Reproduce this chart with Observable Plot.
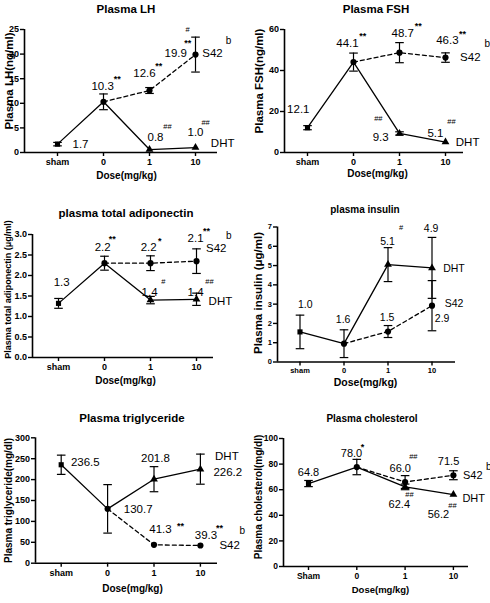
<!DOCTYPE html>
<html>
<head>
<meta charset="utf-8">
<script src="https://cdn.jsdelivr.net/npm/d3@7"></script>
<script src="https://cdn.jsdelivr.net/npm/@observablehq/plot@0.6"></script>
<style>
  html, body { margin: 0; padding: 0; background: #fff; }
  #root { position: relative; width: 490px; height: 603px; overflow: hidden;
          font-family: "Liberation Sans", Arial, Helvetica, sans-serif; color: #000; }
  .panel { position: absolute; }
  .panel svg { overflow: visible; }
  .ttl { position: absolute; font-weight: bold; white-space: nowrap; transform: translate(-50%, -50%); line-height: 1; }
</style>
</head>
<body>
<div id="root"></div>
<script>
// ---------------- DATA ----------------
const categories = ["sham", "0", "1", "10"];
const categoriesChol = ["Sham", "0", "1", "10"];
const xTitle = "Dose(mg/kg)";

// Plasma LH  (base = [sham, vehicle 0]; dht/s42 = doses [1, 10])
const lhBase = [1.7, 10.3];   const lhBaseSem = [0.35, 1.6];
const lhDHT  = [0.6, 1.0];    const lhDHTSem  = [0, 0];
const lhS42  = [12.6, 19.9];  const lhS42Sem  = [0.6, 3.55];
const lhTicks = [0, 5, 10, 15, 20, 25];
const lhNotes = [
  [0.5, 1.63, "1.7"], [0.98, 13.4, "10.3"], [1.30, 15.4, "**"], [1.89, 16.1, "12.6"], [2.20, 18.1, "**"],
  [2.57, 20.1, "19.9"], [2.83, 22.8, "**"], [2.83, 25.0, "#"], [3.37, 20.1, "S42"], [3.72, 22.8, "b"],
  [2.13, 3.05, "0.8"], [2.39, 5.3, "##"], [3.0, 4.07, "1.0"], [3.22, 6.1, "##"], [3.59, 1.83, "DHT"]
];

// Plasma FSH
const fshBase = [12.1, 44.1]; const fshBaseSem = [1.0, 4.4];
const fshDHT  = [9.3, 5.1];   const fshDHTSem  = [0.8, 0];
const fshS42  = [48.7, 46.3]; const fshS42Sem  = [4.9, 2.3];
const fshTicks = [0, 20, 40, 60];
const fshNotes = [
  [-0.2, 21, "12.1"], [0.87, 53.2, "44.1"], [1.2, 58, "**"], [2.07, 58, "48.7"], [2.41, 62.9, "**"],
  [3.04, 54.6, "46.3"], [3.37, 59, "**"], [3.91, 53.2, "b"], [3.54, 46.3, "S42"], [1.54, 16.6, "##"],
  [1.59, 7.3, "9.3"], [2.78, 9.3, "5.1"], [3.13, 15.1, "##"], [3.48, 4.9, "DHT"]
];

// Plasma total adiponectin
const adiBase = [1.32, 2.3];  const adiBaseSem = [0.12, 0.17];
const adiDHT  = [1.4, 1.42];  const adiDHTSem  = [0.09, 0.15];
const adiS42  = [2.3, 2.35];  const adiS42Sem  = [0.18, 0.3];
const adiTicks = [0, 0.5, 1.0, 1.5, 2.0, 2.5, 3.0];
const adiNotes = [
  [0.07, 1.83, "1.3"], [0.96, 2.68, "2.2"], [1.17, 2.95, "**"], [1.96, 2.68, "2.2"], [2.2, 2.9, "*"],
  [2.98, 2.9, "2.1"], [3.22, 3.15, "**"], [3.7, 2.98, "b"], [3.43, 2.66, "S42"], [1.98, 1.6, "1.4"],
  [2.28, 1.84, "#"], [2.98, 1.6, "1.4"], [3.28, 1.84, "##"], [3.52, 1.37, "DHT"]
];

// plasma insulin
const insBase = [1.56, 0.95]; const insBaseSem = [0.87, 0.72];
const insDHT  = [5.05, 4.88]; const insDHTSem  = [0.88, 1.58];
const insS42  = [1.58, 2.92]; const insS42Sem  = [0.31, 1.3];
const insTicks = [0, 1, 2, 3, 4, 5, 6, 7];
const insNotes = [
  [0.12, 2.98, "1.0"], [0.98, 2.19, "1.6"], [1.99, 6.26, "5.1"], [2.3, 6.98, "#"], [2.98, 6.9, "4.9"],
  [1.98, 2.29, "1.5"], [3.5, 4.83, "DHT"], [3.5, 3.05, "S42"], [3.23, 2.27, "2.9"]
];

// Plasma triglyceride
const triBase = [235.5, 130]; const triBaseSem = [23, 58];
const triDHT  = [201, 225];   const triDHTSem  = [30, 36];
const triS42  = [44, 42.3];   const triS42Sem  = [0, 0];
const triTicks = [0, 50, 100, 150, 200, 250, 300];
const triNotes = [
  [0.52, 241, "236.5"], [2.03, 252, "201.8"], [3.57, 256, "DHT"], [3.59, 218, "226.2"], [1.66, 129, "130.7"],
  [2.14, 80.4, "41.3"], [2.57, 95, "**"], [3.12, 66.7, "39.3"], [3.41, 90, "**"], [3.9, 78.7, "b"], [3.63, 42, "S42"]
];

// Plasma cholesterol
const choBase = [64.8, 77.7]; const choBaseSem = [2.4, 6];
const choDHT  = [62.2, 56.2]; const choDHTSem  = [2.2, 0];
const choS42  = [66, 71.3];   const choS42Sem  = [5, 3.5];
const choTicks = [0, 20, 40, 60, 80, 100];
const choNotes = [
  [0, 73.4, "64.8"], [0.89, 88, "78.0"], [1.12, 95, "*"], [1.9, 76.6, "66.0"], [2.17, 86, "##"],
  [2.9, 82, "71.5"], [3.4, 71, "S42"], [3.73, 78, "b"], [2.09, 56, "##"], [1.88, 48.4, "62.4"],
  [3.42, 53, "DHT"], [2.98, 47.7, "##"], [2.69, 40.6, "56.2"]
];

// ---------------- RENDERING ----------------
const FONT = '"Liberation Sans", Arial, Helvetica, sans-serif';
const capSymbol = { draw(ctx, size) { const w = Math.sqrt(size / Math.PI); ctx.moveTo(-w, 0); ctx.lineTo(w, 0); } };

function buildPanel(c) {
  const g = c.geom, f = c.fonts;
  const pts = [
    {i: 0, v: c.base[0], e: c.baseSem[0], sym: "square"},
    {i: 1, v: c.base[1], e: c.baseSem[1], sym: "circle"},
    {i: 2, v: c.dht[0], e: c.dhtSem[0], sym: "triangle"},
    {i: 3, v: c.dht[1], e: c.dhtSem[1], sym: "triangle"},
    {i: 2, v: c.s42[0], e: c.s42Sem[0], sym: "circle"},
    {i: 3, v: c.s42[1], e: c.s42Sem[1], sym: "circle"}
  ];
  const dhtLine = [pts[0], pts[1], pts[2], pts[3]];
  const s42Line = [pts[1], pts[4], pts[5]];
  const bars = pts.filter(d => d.e > 0);
  const caps = bars.flatMap(d => [{i: d.i, v: d.v - d.e}, {i: d.i, v: d.v + d.e}]);
  const xDom = [(g.mL - g.base) / g.step, (g.w - g.mR - g.base) / g.step];
  const notes = c.notes.map(([i, v, t]) => ({i, v, t}));
  const isNum = d => /^[\d.]+$/.test(d.t);
  const isStar = d => /^\*+$/.test(d.t);
  const isHash = d => /^#+$/.test(d.t);
  const isB = d => d.t === "b";
  const isName = d => !isNum(d) && !isStar(d) && !isHash(d) && !isB(d);

  const svg = Plot.plot({
    width: g.w, height: g.h,
    marginLeft: g.mL, marginRight: g.mR, marginTop: g.mT, marginBottom: g.mB,
    style: {fontFamily: FONT, background: "transparent", overflow: "visible", color: "#000"},
    x: {type: "linear", domain: xDom},
    y: {type: "linear", domain: [0, c.yTicks[c.yTicks.length - 1]]},
    marks: [
      Plot.axisX({ticks: [0, 1, 2, 3], tickFormat: i => c.cats[i], tickSize: 4, tickPadding: 2,
                  fontSize: f.tick, fontWeight: "bold", strokeWidth: 1.4, label: null}),
      Plot.axisY({ticks: c.yTicks, tickFormat: c.yFmt, tickSize: 4, tickPadding: 1.5,
                  fontSize: f.tick, fontWeight: "bold", strokeWidth: 1.4, label: null}),
      Plot.ruleY([0], {stroke: "#000", strokeWidth: 1.6}),
      Plot.ruleX([xDom[0]], {stroke: "#000", strokeWidth: 1.6}),
      Plot.ruleX(bars, {x: "i", y1: d => d.v - d.e, y2: d => d.v + d.e, stroke: "#000", strokeWidth: 1.2}),
      Plot.dot(caps, {x: "i", y: "v", symbol: capSymbol, r: 4.3, stroke: "#000", fill: "none", strokeWidth: 1.2}),
      Plot.line(dhtLine, {x: "i", y: "v", stroke: "#000", strokeWidth: 1.3}),
      Plot.line(s42Line, {x: "i", y: "v", stroke: "#000", strokeWidth: 1.3, strokeDasharray: "4,3"}),
      Plot.dot(pts.filter(d => d.sym === "square"), {x: "i", y: "v", symbol: "square", r: 2.9, fill: "#000", stroke: "none"}),
      Plot.dot(pts.filter(d => d.sym === "circle"), {x: "i", y: "v", symbol: "circle", r: 3.1, fill: "#000", stroke: "none"}),
      Plot.dot(pts.filter(d => d.sym === "triangle"), {x: "i", y: "v", symbol: "triangle", r: 2.9, fill: "#000", stroke: "none"}),
      Plot.text(notes.filter(isNum), {x: "i", y: "v", text: "t", fontSize: f.num, fill: "#000"}),
      Plot.text(notes.filter(isName), {x: "i", y: "v", text: "t", fontSize: f.name, fill: "#000"}),
      Plot.text(notes.filter(isStar), {x: "i", y: "v", text: "t", fontSize: 9, fontWeight: "bold", dy: 2.5, fill: "#000"}),
      Plot.text(notes.filter(isHash), {x: "i", y: "v", text: "t", fontSize: 7.5, fill: "#000"}),
      Plot.text(notes.filter(isB), {x: "i", y: "v", text: "t", fontSize: 10, fill: "#000"}),
      Plot.text([c.yLabel], {text: d => d, frameAnchor: "left", rotate: -90, dx: g.yl[0], dy: g.yl[1],
                             textAnchor: "middle", lineAnchor: "middle",
                             fontSize: f.ylab, fontWeight: "bold", fill: "#000"}),
      Plot.text([xTitle], {text: d => d, frameAnchor: "bottom", dx: g.xl[0], dy: g.xl[1],
                           textAnchor: "middle", lineAnchor: "middle",
                           fontSize: f.xlab, fontWeight: "bold", fill: "#000"})
    ]
  });
  const wrap = document.createElement("div");
  wrap.className = "panel";
  wrap.style.left = g.x + "px";
  wrap.style.top = g.y + "px";
  wrap.appendChild(svg);
  root.appendChild(wrap);
  const t = document.createElement("div");
  t.className = "ttl";
  t.textContent = c.title;
  t.style.left = g.t[0] + "px";
  t.style.top = g.t[1] + "px";
  t.style.fontSize = f.title + "px";
  root.appendChild(t);
}

const root = document.getElementById("root");
const fmt0 = d3.format("d");
const fmt1 = d3.format(".1f");

buildPanel({
  title: "Plasma LH", yLabel: "Plasma LH(ng/ml)", cats: categories,
  base: lhBase, baseSem: lhBaseSem, dht: lhDHT, dhtSem: lhDHTSem, s42: lhS42, s42Sem: lhS42Sem,
  notes: lhNotes, yTicks: lhTicks, yFmt: fmt0,
  geom: {x: 0, y: 0, w: 245, h: 200, mL: 24, mR: 28, mT: 29, mB: 48, base: 57, step: 46,
         yl: [-15, -10], xl: [5.5, 23], t: [126, 10]},
  fonts: {tick: 9, num: 11.5, name: 11.5, ylab: 11.5, xlab: 10, title: 11.5}
});
buildPanel({
  title: "Plasma FSH", yLabel: "Plasma FSH(ng/ml)", cats: categories,
  base: fshBase, baseSem: fshBaseSem, dht: fshDHT, dhtSem: fshDHTSem, s42: fshS42, s42Sem: fshS42Sem,
  notes: fshNotes, yTicks: fshTicks, yFmt: fmt0,
  geom: {x: 245, y: 0, w: 245, h: 200, mL: 39, mR: 27, mT: 29, mB: 48, base: 62, step: 46,
         yl: [-25, -10], xl: [3.5, 21], t: [376, 10]},
  fonts: {tick: 9, num: 11.5, name: 11.5, ylab: 11.5, xlab: 10, title: 11.5}
});
buildPanel({
  title: "plasma total adiponectin", yLabel: "Plasma total adiponectin (\u03bcg/ml)", cats: categories,
  base: adiBase, baseSem: adiBaseSem, dht: adiDHT, dhtSem: adiDHTSem, s42: adiS42, s42Sem: adiS42Sem,
  notes: adiNotes, yTicks: adiTicks, yFmt: fmt1,
  geom: {x: 0, y: 195, w: 245, h: 200, mL: 32, mR: 32, mT: 39, mB: 38, base: 58, step: 46,
         yl: [-24, -6.5], xl: [2.5, 23], t: [126, 214]},
  fonts: {tick: 9, num: 11.5, name: 11.5, ylab: 9, xlab: 10, title: 11.5}
});
buildPanel({
  title: "plasma insulin", yLabel: "Plasma insulin (\u03bcg/ml)", cats: categories,
  base: insBase, baseSem: insBaseSem, dht: insDHT, dhtSem: insDHTSem, s42: insS42, s42Sem: insS42Sem,
  notes: insNotes, yTicks: insTicks, yFmt: fmt0,
  geom: {x: 245, y: 195, w: 245, h: 200, mL: 32, mR: 35, mT: 31.5, mB: 33.5, base: 54.5, step: 44,
         yl: [-19, -1.5], xl: [-1, 21], t: [365, 210]},
  fonts: {tick: 7.5, num: 10.5, name: 10.5, ylab: 11.5, xlab: 10.5, title: 10}
});
buildPanel({
  title: "Plasma triglyceride", yLabel: "Plasma triglyceride(mg/dl)", cats: categories,
  base: triBase, baseSem: triBaseSem, dht: triDHT, dhtSem: triDHTSem, s42: triS42, s42Sem: triS42Sem,
  notes: triNotes, yTicks: triTicks, yFmt: fmt0,
  geom: {x: 0, y: 395, w: 245, h: 208, mL: 35, mR: 28, mT: 42.3, mB: 40.3, base: 60.7, step: 46.4,
         yl: [-27, 0], xl: [6, 25.5], t: [132, 419]},
  fonts: {tick: 9, num: 11.5, name: 11.5, ylab: 10, xlab: 10, title: 11.5}
});
buildPanel({
  title: "Plasma cholesterol", yLabel: "Plasma cholesterol(mg/dl)", cats: categoriesChol,
  base: choBase, baseSem: choBaseSem, dht: choDHT, dhtSem: choDHTSem, s42: choS42, s42Sem: choS42Sem,
  notes: choNotes, yTicks: choTicks, yFmt: fmt0,
  geom: {x: 245, y: 395, w: 245, h: 208, mL: 38, mR: 22, mT: 43, mB: 37, base: 63, step: 48.3,
         yl: [-25, -5.5], xl: [4.5, 23], t: [372, 419]},
  fonts: {tick: 8.5, num: 11, name: 11, ylab: 10, xlab: 9.5, title: 10}
});
</script>
</body>
</html>
